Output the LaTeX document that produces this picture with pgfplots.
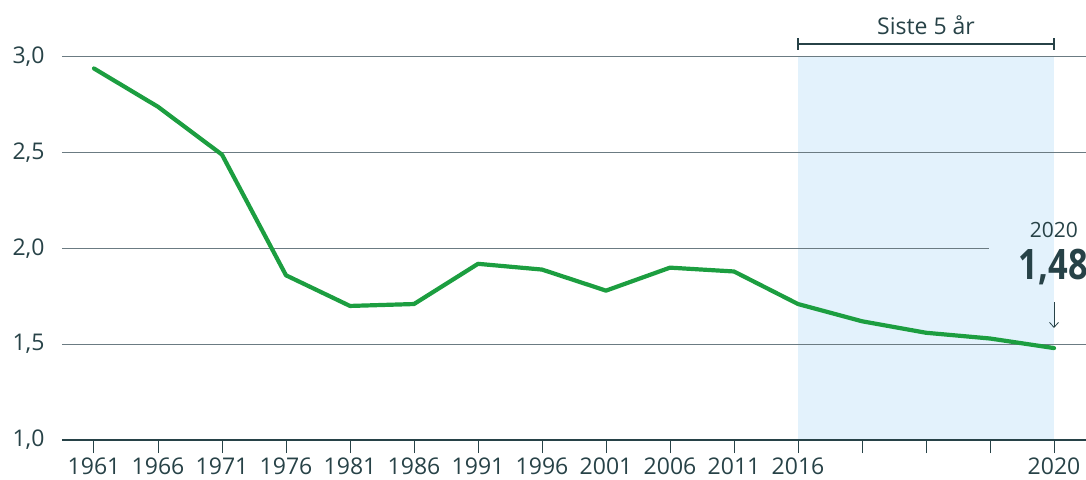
\documentclass[border=0pt]{standalone}
\usepackage{pgfplots}
\pgfplotsset{compat=1.18}
\usetikzlibrary{arrows.meta}
\usepackage{fontspec}
\setmainfont{Open Sans}
\definecolor{txt}{HTML}{274247}
\definecolor{grn}{HTML}{1C9E40}
\definecolor{shadec}{HTML}{E3F2FC}
\definecolor{gridc}{HTML}{6B7B82}
\begin{document}
\begin{tikzpicture}[font=\fontsize{23}{27}\selectfont, text=txt]
\begin{axis}[name=ax, scale only axis, width=1024pt, height=383pt,
  xmin=-0.5, xmax=15.5, ymin=1, ymax=3,
  xtick={0,...,15},
  xticklabels={1961,1966,1971,1976,1981,1986,1991,1996,2001,2006,2011,2016,,,,2020},
  ytick={1,1.5,2,2.5,3},
  yticklabels={{1,0},{1,5},{2,0},{2,5},{3,0}},
  axis line style={draw=none},
  xtick pos=bottom, ytick pos=left,
  tick align=outside, major tick length=13pt,
  xtick style={draw=txt, line width=1pt},
  ytick style={draw=none},
  yticklabel style={xshift=-1pt, text=txt},
  xticklabel style={yshift=-1pt, text=txt},
  /pgf/number format/assume math mode=true,
  clip=false,
]
\fill[shadec] (axis cs:11,1) rectangle (axis cs:15,3);
\draw[gridc, line width=1pt] (axis cs:-0.5,3) -- (axis cs:15.5,3);
\draw[gridc, line width=1pt] (axis cs:-0.5,2.5) -- (axis cs:15.5,2.5);
\draw[gridc, line width=1pt] (axis cs:-0.5,2) -- (axis cs:13.98,2);
\draw[gridc, line width=1pt] (axis cs:-0.5,1.5) -- (axis cs:15.5,1.5);
\draw[txt, line width=1.3pt] (axis cs:-0.5,1) -- (axis cs:15.5,1);
\addplot[grn, line width=4.2pt, line join=round, line cap=round, mark=none] coordinates {
(0,2.94) (1,2.74) (2,2.49) (3,1.86) (4,1.70) (5,1.71) (6,1.92) (7,1.89)
(8,1.78) (9,1.90) (10,1.88) (11,1.71) (12,1.62) (13,1.56) (14,1.53) (15,1.48)};
\draw[txt, line width=1.5pt] ([yshift=13pt]axis cs:11,3) -- ([yshift=13pt]axis cs:15,3);
\draw[txt, line width=1.5pt] ([yshift=7pt]axis cs:11,3) -- ([yshift=19pt]axis cs:11,3);
\draw[txt, line width=1.5pt] ([yshift=7pt]axis cs:15,3) -- ([yshift=19pt]axis cs:15,3);
\node[anchor=base, inner sep=0pt] at ([yshift=22pt]axis cs:13,3) {Siste 5 år};
\node[anchor=base east, inner sep=0pt, font=\fontsize{21}{25}\selectfont] at (axis cs:15.375,2.055) {2020};
\node[anchor=base east, inner sep=0pt, font=\fontsize{42}{46}\selectfont\bfseries] at (axis cs:15.53,1.836) {\scalebox{0.82}[1]{1,48}};
\draw[-{Straight Barb[length=5pt, width=9pt]}, txt, line width=0.8pt] (axis cs:15,1.72) -- (axis cs:15,1.585);
\end{axis}
\pgfresetboundingbox
\path ([xshift=-62pt,yshift=-39pt]ax.south west) rectangle ([yshift=57pt]ax.north east);
\end{tikzpicture}
\end{document}
